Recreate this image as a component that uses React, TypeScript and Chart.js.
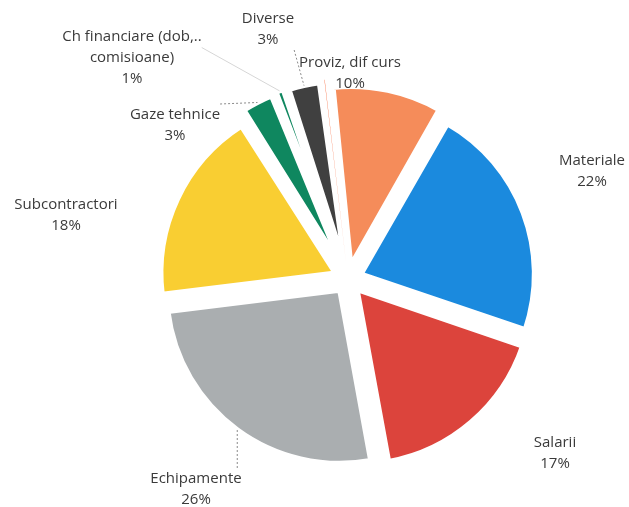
import React, { useEffect, useRef } from "react";
import { Chart, registerables } from "chart.js";

Chart.register(...registerables);

// ---- data ----
const categories = [
  "Proviz, dif curs",
  "Materiale",
  "Salarii",
  "Echipamente",
  "Subcontractori",
  "Gaze tehnice",
  "Ch financiare (dob,.. comisioane)",
  "Diverse",
  "",
];
const values = [10, 22, 17, 26, 18, 3, 1, 3, 0.4];
const percentLabels = ["10%", "22%", "17%", "26%", "18%", "3%", "1%", "3%", ""];
const labelLines = [
  ["Proviz, dif curs"],
  ["Materiale"],
  ["Salarii"],
  ["Echipamente"],
  ["Subcontractori"],
  ["Gaze tehnice"],
  ["Ch financiare (dob,..", "comisioane)"],
  ["Diverse"],
  [],
];
const colors = [
  "#F58C5A",
  "#1B8ADE",
  "#DC443C",
  "#AAAEB0",
  "#F9CE32",
  "#0F875F",
  "#0F875F",
  "#404040",
  "#F4511E",
];

// ---- label layout (relative to pie centre) ----
const labelOffsets: [number, number][] = [
  [2, -206],
  [244, -108],
  [207, 174],
  [-152, 210],
  [-282, -64],
  [-173, -154],
  [-216, -221],
  [-80, -250],
  [0, 0],
];
const hasLeader = [false, false, false, true, false, true, true, true, false];
const leaderColor = ["", "", "", "#8a8a8a", "", "#8a8a8a", "#d6d6d6", "#8a8a8a", ""];
const leaderDash = [[], [], [], [2, 2], [], [2, 2], [], [2, 2], []];
const attachLines = [0, 0, 0, 0, 0, 0, 1, 0, 0];
const borderWidths = [5, 5, 5, 5, 5, 5, 5, 5, 0];

const FONT = "15px 'Open Sans', sans-serif";
const LINE_H = 21;

const labelPlugin = {
  id: "outerLabels",
  afterDatasetsDraw(chart: any) {
    const ctx = chart.ctx as CanvasRenderingContext2D;
    const meta = chart.getDatasetMeta(0);
    ctx.save();
    ctx.font = FONT;
    ctx.textAlign = "center";
    ctx.textBaseline = "middle";
    meta.data.forEach((arc: any, i: number) => {
      const lines = labelLines[i];
      if (!lines || lines.length === 0) return;
      const p = arc.getProps(["x", "y", "startAngle", "endAngle", "outerRadius", "circumference"], true);
      const off = (arc.options.offset || 0) / 4;
      const mid = (p.startAngle + p.endAngle) / 2;
      const fix = 1 - Math.sin(Math.min(Math.PI, p.circumference || 0));
      const r = p.outerRadius + off * fix;
      const dcx = p.x + Math.cos(mid) * off;
      const dcy = p.y + Math.sin(mid) * off;
      const ax = dcx + Math.cos(mid) * r;
      const ay = dcy + Math.sin(mid) * r;

      const allLines = [...lines, percentLabels[i]];
      const cx = p.x + labelOffsets[i][0];
      const cy = p.y + labelOffsets[i][1];
      const h = allLines.length * LINE_H;
      const top = cy - h / 2;

      if (hasLeader[i]) {
        const n = attachLines[i] || allLines.length;
        const boxLines = allLines.slice(0, n);
        const bw = Math.max(...boxLines.map((t) => ctx.measureText(t).width));
        const bh = n * LINE_H;
        const bx = Math.min(Math.max(ax, cx - bw / 2), cx + bw / 2);
        const by = Math.min(Math.max(ay, top), top + bh);
        ctx.save();
        ctx.strokeStyle = leaderColor[i];
        ctx.lineWidth = 1;
        ctx.setLineDash(leaderDash[i]);
        ctx.beginPath();
        ctx.moveTo(bx, by);
        ctx.lineTo(ax, ay);
        ctx.stroke();
        ctx.restore();
      }

      ctx.fillStyle = "#3a3a3a";
      allLines.forEach((t, k) => {
        ctx.fillText(t, cx, top + LINE_H / 2 + k * LINE_H);
      });
    });
    ctx.restore();
  },
};

export default function App() {
  const ref = useRef<HTMLCanvasElement>(null);
  useEffect(() => {
    if (!ref.current) return;
    const chart = new Chart(ref.current, {
      type: "pie",
      data: {
        labels: categories,
        datasets: [
          {
            data: values,
            backgroundColor: colors,
            borderColor: "#ffffff",
            borderWidth: borderWidths,
            offset: 56,
            radius: 173,
          } as any,
        ],
      },
      options: {
        animation: false,
        responsive: false,
        maintainAspectRatio: false,
        rotation: -6,
        radius: 173,
        layout: { padding: { left: 67, right: 0, top: 51, bottom: 0 } },
        plugins: {
          legend: { display: false },
          tooltip: { enabled: false },
        },
        events: [],
      } as any,
      plugins: [labelPlugin],
    });
    return () => chart.destroy();
  }, []);
  return (
    <div style={{ position: "absolute", left: 0, top: 0, width: 629, height: 507, background: "#fff" }}>
      <canvas ref={ref} width={629} height={507} style={{ width: 629, height: 507, display: "block" }} />
    </div>
  );
}
